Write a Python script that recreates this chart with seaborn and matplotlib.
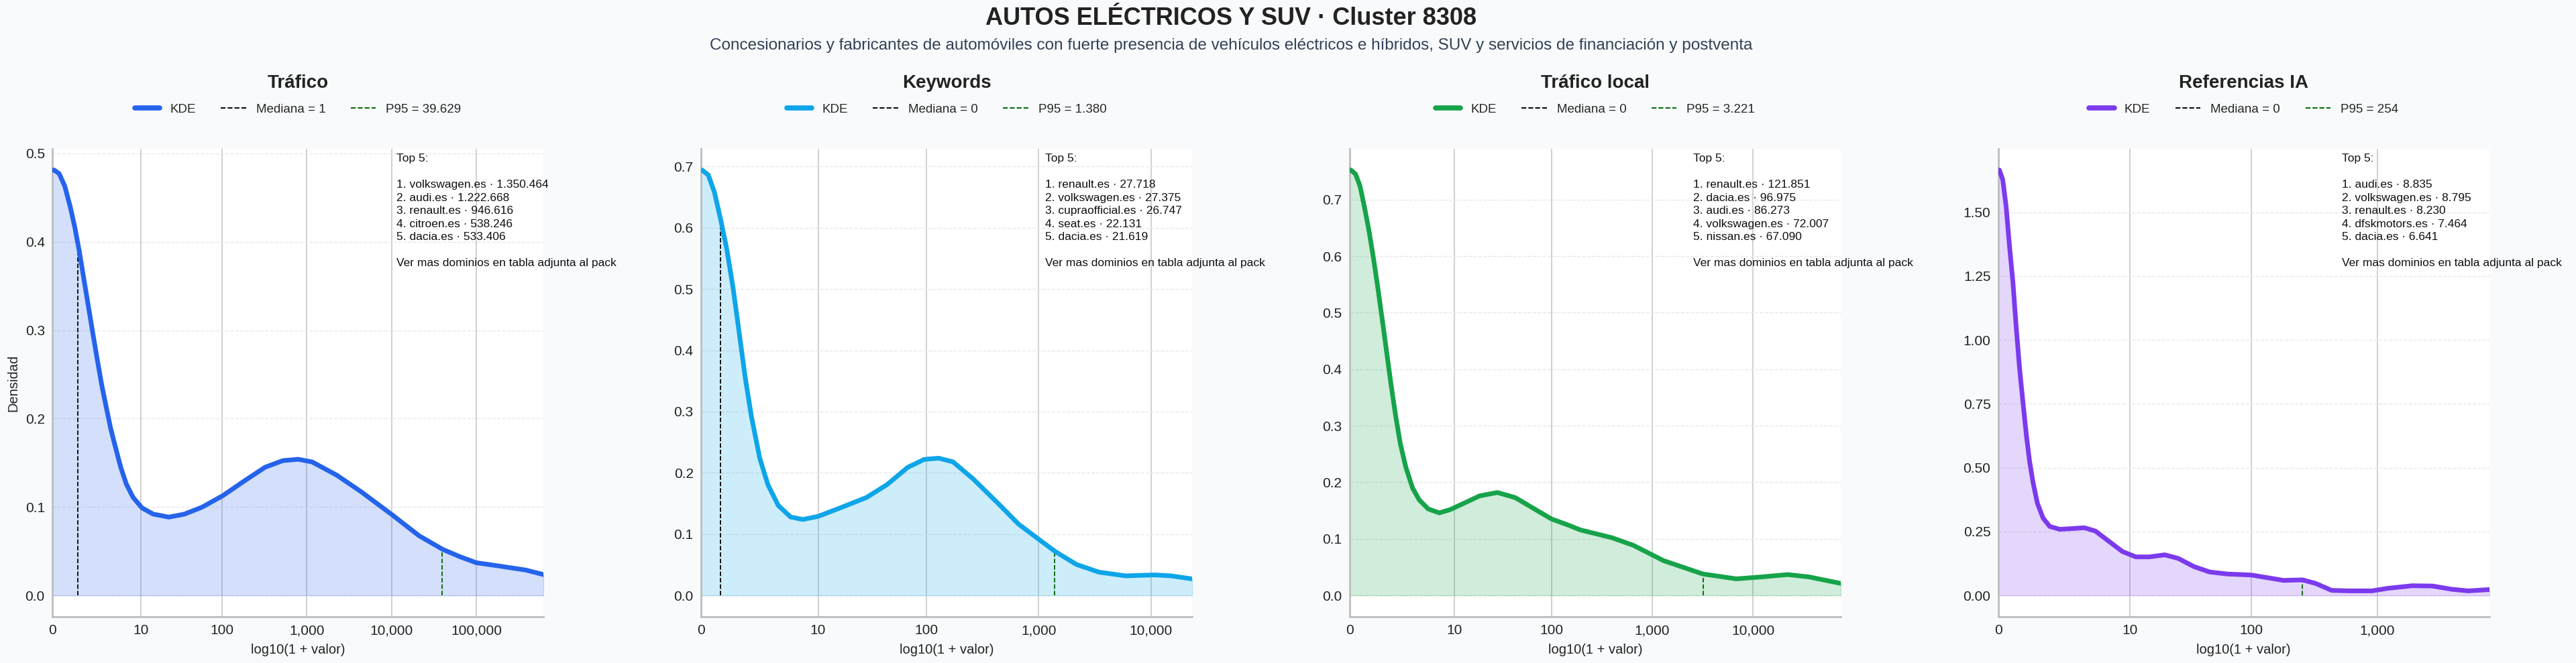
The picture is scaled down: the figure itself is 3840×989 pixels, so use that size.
import numpy as np
import matplotlib
matplotlib.use("Agg")
import matplotlib.pyplot as plt
import seaborn as sns
from matplotlib.lines import Line2D

# --- datos ---
titulos = ["Tráfico", "Keywords", "Tráfico local", "Referencias IA"]
colores = ["#2563eb", "#0ea5e9", "#16a34a", "#7c3aed"]

# curvas KDE (x = log10(1 + valor), y = densidad)
kde_x_trafico = [0.0, 0.023, 0.081, 0.147, 0.213, 0.266, 0.319, 0.372, 0.424, 0.477, 0.530, 0.583,
                 0.636, 0.688, 0.741, 0.807, 0.873, 0.952, 1.058, 1.190, 1.375, 1.559, 1.770, 2.013,
                 2.272, 2.509, 2.720, 2.90, 3.064, 3.355, 3.646, 4.01, 4.325, 4.606, 4.81, 5.0,
                 5.29, 5.585, 5.794]
kde_y_trafico = [0.481, 0.481, 0.477, 0.463, 0.439, 0.416, 0.389, 0.358, 0.328, 0.297, 0.267, 0.238,
                 0.213, 0.189, 0.169, 0.145, 0.126, 0.111, 0.099, 0.092, 0.0886, 0.092, 0.100, 0.113,
                 0.130, 0.145, 0.1525, 0.154, 0.151, 0.136, 0.117, 0.091, 0.0675, 0.052, 0.0437, 0.037,
                 0.033, 0.0287, 0.0236]

kde_x_keywords = [0.0, 0.011, 0.066, 0.12, 0.175, 0.23, 0.285, 0.34, 0.395, 0.449, 0.523, 0.595, 0.687,
                  0.797, 0.906, 1.041, 1.254, 1.473, 1.655, 1.838, 1.984, 2.112, 2.24, 2.42, 2.642,
                  2.825, 3.007, 3.146, 3.336, 3.537, 3.774, 4.03, 4.177, 4.366]
kde_y_keywords = [0.694, 0.694, 0.686, 0.658, 0.614, 0.565, 0.503, 0.429, 0.354, 0.292, 0.224, 0.181, 0.147,
                  0.128, 0.124, 0.129, 0.144, 0.160, 0.181, 0.209, 0.222, 0.224, 0.218, 0.190, 0.150,
                  0.116, 0.091, 0.072, 0.0507, 0.038, 0.032, 0.0335, 0.032, 0.027]

kde_x_local = [0.0, 0.015, 0.060, 0.104, 0.148, 0.193, 0.237, 0.281, 0.326, 0.370, 0.414, 0.458,
               0.503, 0.558, 0.625, 0.691, 0.780, 0.890, 1.001, 1.134, 1.289, 1.466, 1.643, 1.842,
               2.005, 2.175, 2.286, 2.603, 2.815, 3.112, 3.502, 3.833, 4.086, 4.341, 4.553, 4.870]
kde_y_local = [0.752, 0.752, 0.745, 0.724, 0.687, 0.645, 0.597, 0.544, 0.486, 0.428, 0.370, 0.317,
               0.269, 0.227, 0.190, 0.169, 0.153, 0.146, 0.152, 0.163, 0.176, 0.182, 0.173, 0.152,
               0.135, 0.124, 0.116, 0.102, 0.0885, 0.0616, 0.038, 0.0294, 0.0328, 0.0369, 0.0328, 0.0213]

kde_x_ia = [0.0, 0.011, 0.037, 0.064, 0.090, 0.117, 0.143, 0.170, 0.196, 0.223, 0.249, 0.276,
            0.311, 0.356, 0.409, 0.488, 0.594, 0.683, 0.771, 0.877, 0.984, 1.090, 1.196, 1.320,
            1.426, 1.550, 1.674, 1.815, 2.005, 2.259, 2.41, 2.514, 2.640, 2.768, 2.958, 3.085,
            3.277, 3.437, 3.594, 3.722, 3.889]
kde_y_ia = [1.665, 1.665, 1.627, 1.521, 1.369, 1.229, 1.053, 0.889, 0.760, 0.631, 0.526, 0.444,
            0.361, 0.303, 0.270, 0.259, 0.262, 0.265, 0.252, 0.212, 0.172, 0.151, 0.151, 0.159,
            0.145, 0.113, 0.092, 0.084, 0.080, 0.059, 0.061, 0.047, 0.020, 0.018, 0.018, 0.028,
            0.038, 0.037, 0.024, 0.018, 0.023]

medianas = [1, 0.5, 0, 0]
p95 = [39629, 1380, 3221, 254]
x_max = [5.794, 4.366, 4.870, 3.889]

top5_trafico = ["volkswagen.es", "audi.es", "renault.es", "citroen.es", "dacia.es"]
top5_val_trafico = [1350464, 1222668, 946616, 538246, 533406]
top5_keywords = ["renault.es", "volkswagen.es", "cupraofficial.es", "seat.es", "dacia.es"]
top5_val_keywords = [27718, 27375, 26747, 22131, 21619]
top5_local = ["renault.es", "dacia.es", "audi.es", "volkswagen.es", "nissan.es"]
top5_val_local = [121851, 96975, 86273, 72007, 67090]
top5_ia = ["audi.es", "volkswagen.es", "renault.es", "dfskmotors.es", "dacia.es"]
top5_val_ia = [8835, 8795, 8230, 7464, 6641]

ticks_valores = [0, 10, 100, 1000, 10000, 100000]

curvas = [(kde_x_trafico, kde_y_trafico), (kde_x_keywords, kde_y_keywords),
          (kde_x_local, kde_y_local), (kde_x_ia, kde_y_ia)]
tops = [(top5_trafico, top5_val_trafico), (top5_keywords, top5_val_keywords),
        (top5_local, top5_val_local), (top5_ia, top5_val_ia)]


def fmt_es(v):
    return f"{v:,.0f}".replace(",", ".")


sns.set_style("whitegrid")
plt.rcParams["font.family"] = ["Liberation Sans", "DejaVu Sans"]

fig, axes = plt.subplots(1, 4, figsize=(38.4, 9.89), dpi=100)
fig.patch.set_facecolor("#f8fafc")
fig.subplots_adjust(left=0.0203, right=0.9664, top=0.7755, bottom=0.0698, wspace=0.32)

for i, ax in enumerate(axes):
    xs, ys = curvas[i]
    color = colores[i]
    ax.set_facecolor("white")

    sns.lineplot(x=xs, y=ys, ax=ax, color=color, lw=5, zorder=3)
    ax.fill_between(xs, ys, color=color, alpha=0.2, lw=1, zorder=1.5)

    # mediana y p95 (hasta la curva)
    x_med = np.log10(1 + medianas[i])
    x_p95 = np.log10(1 + p95[i])
    ax.vlines(x_med, 0, np.interp(x_med, xs, ys), colors="black", linestyles="--", lw=1.3, zorder=2.2)
    ax.vlines(x_p95, 0, np.interp(x_p95, xs, ys), colors="darkgreen", linestyles="--", lw=1.3, zorder=2.2)

    ax.set_xlim(0, x_max[i])
    tv = [v for v in ticks_valores if np.log10(1 + v) <= x_max[i]]
    ax.set_xticks([np.log10(1 + v) for v in tv])
    ax.set_xticklabels([f"{v:,}" for v in tv])

    ax.grid(axis="x", color="#c8c8c8", lw=1.2, ls="-")
    ax.grid(axis="y", color="#e8e8e8", lw=1.0, ls="--")
    ax.set_axisbelow(True)
    sns.despine(ax=ax)
    for s in ["left", "bottom"]:
        ax.spines[s].set_color("#bdbdbd")
        ax.spines[s].set_linewidth(2)
    ax.tick_params(axis="both", labelsize=15, colors="#222222", length=0, pad=8)

    ax.set_xlabel("log10(1 + valor)", fontsize=14.5, color="#222222", labelpad=7)
    ax.set_ylabel("Densidad" if i == 0 else "", fontsize=14.5, color="#222222", labelpad=6)

    ax.text(0.5, 1.1404, titulos[i], transform=ax.transAxes, ha="center", va="center",
            fontsize=20, fontweight="bold", color="#222222")

    handles = [
        Line2D([0], [0], color=color, lw=5.5, solid_capstyle="round"),
        Line2D([0], [0], color="black", lw=1.4, ls="--"),
        Line2D([0], [0], color="darkgreen", lw=1.4, ls="--"),
    ]
    etiquetas = ["KDE", f"Mediana = {fmt_es(medianas[i])}", f"P95 = {fmt_es(p95[i])}"]
    ax.legend(handles, etiquetas, loc="center", bbox_to_anchor=(0.5, 1.0845), ncol=3,
              frameon=False, fontsize=13.5)

    dominios, valores = tops[i]
    lineas = ["Top 5:", ""] + [f"{k + 1}. {d} · {fmt_es(v)}" for k, (d, v) in enumerate(zip(dominios, valores))]
    lineas += ["", "Ver mas dominios en tabla adjunta al pack"]
    ax.text(0.70, 0.99, "\n".join(lineas), transform=ax.transAxes, ha="left", va="top",
            fontsize=12.5, color="#111111", linespacing=1.38, zorder=5, clip_on=False)

fig.text(0.478, 0.972, "AUTOS ELÉCTRICOS Y SUV · Cluster 8308", ha="center", va="center",
         fontsize=26, fontweight="bold", color="#222222")
fig.text(0.478, 0.931, "Concesionarios y fabricantes de automóviles con fuerte presencia de vehículos "
         "eléctricos e híbridos, SUV y servicios de financiación y postventa",
         ha="center", va="center", fontsize=17.5, color="#334155")

fig.savefig("out.png", dpi=100, facecolor=fig.get_facecolor())
